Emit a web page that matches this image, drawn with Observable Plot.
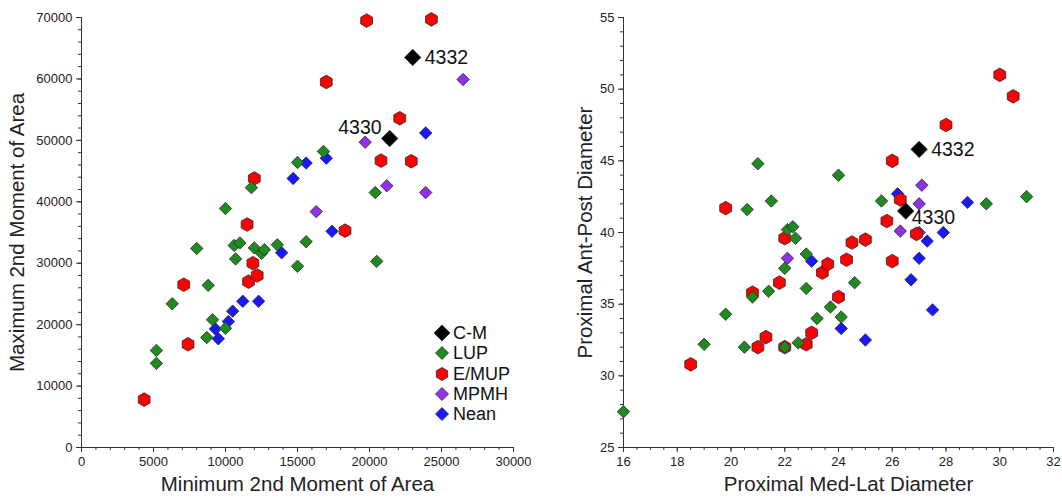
<!DOCTYPE html>
<html><head><meta charset="utf-8">
<script src="https://cdn.jsdelivr.net/npm/d3@7"></script>
<script src="https://cdn.jsdelivr.net/npm/@observablehq/plot@0.6"></script>
<style>
body{margin:0;background:#fff;font-family:Arial,"Liberation Sans",sans-serif;}
#wrap{position:relative;width:1062px;height:498px;display:flex;overflow:hidden;}
#legend{position:absolute;left:431px;top:323px;font-size:18px;color:#111;line-height:20.3px;}
#legend div{display:flex;align-items:center;height:20.3px;}
#legend svg{width:22px;height:20px;margin-left:0px;margin-right:0px;}
</style></head><body><div id="wrap"></div>
<script>
// ---- shared categories / styles ----
const groups = ["C-M","LUP","E/MUP","MPMH","Nean"];
const groupColors = ["#000000","#1f8a1f","#ff0000","#9030e8","#1818ff"];
const groupSymbols = ["diamond2","diamond2","hexagon","diamond2","diamond2"];
const drawOrder = ["Nean","MPMH","E/MUP","LUP","C-M"];

// ---- left panel: 2nd moments of area ----
const leftCM_x = [23000, 21400];
const leftCM_y = [63500, 50300];
const leftCM_labels = ["4332","4330"];
const leftLUP_x = [5200,5200,6300,8000,8700,8800,9100,10000,10000,10600,10700,11000,11800,12000,12500,12700,13600,15000,15000,15600,16800,20400,20500];
const leftLUP_y = [15800,13700,23400,32400,17900,26400,20800,19400,38900,32900,30700,33300,42300,32500,31600,32200,33000,46400,29500,33500,48200,41500,30300];
const leftEMUP_x = [4350,7100,7400,11500,11600,11900,12000,12200,17000,18300,19800,20800,22100,22900,24300];
const leftEMUP_y = [7800,26500,16800,36300,27000,30000,43800,28000,59500,35300,69500,46700,53600,46600,69700];
const leftMPMH_x = [16300,19700,21200,23900,26500];
const leftMPMH_y = [38400,49700,42600,41500,59900];
const leftNean_x = [9300,9500,10200,10500,11200,12300,13900,14700,15600,17000,17400,23900];
const leftNean_y = [19300,17700,20500,22200,23800,23800,31700,43800,46300,47100,35200,51200];

// ---- right panel: proximal diameters ----
const rightCM_x = [27.0, 26.5];
const rightCM_y = [45.8, 41.5];
const rightCM_labels = ["4332","4330"];
const rightLUP_x = [16.0,19.0,19.8,20.5,20.6,20.8,21.0,21.4,21.5,22.0,22.0,22.1,22.3,22.4,22.5,22.8,22.8,23.2,23.7,24.0,24.1,24.6,25.6,29.5,31.0];
const rightLUP_y = [27.5,32.2,34.3,32.0,41.6,35.5,44.8,35.9,42.2,37.5,32.0,40.2,40.4,39.6,32.3,38.5,36.1,34.0,34.8,44.0,34.1,36.5,42.2,42.0,42.5];
const rightEMUP_x = [18.5,19.8,20.8,21.0,21.3,21.8,22.0,22.0,22.8,23.0,23.4,23.6,24.0,24.3,24.5,25.0,25.8,26.0,26.0,26.3,26.9,28.0,30.0,30.5];
const rightEMUP_y = [30.8,41.7,35.8,32.0,32.7,36.5,39.6,32.0,32.2,33.0,37.2,37.8,35.5,38.1,39.3,39.5,40.8,38.0,45.0,42.3,39.9,47.5,51.0,49.5];
const rightMPMH_x = [22.1,26.3,27.0,27.0,27.1];
const rightMPMH_y = [38.2,40.1,40.0,42.0,43.3];
const rightNean_x = [23.0,24.1,25.0,26.2,26.7,27.0,27.3,27.5,27.9,28.8];
const rightNean_y = [38.0,33.3,32.5,42.7,36.7,38.2,39.4,34.6,40.0,42.1];

// ---- axis ticks ----
const leftXTicks = [0,5000,10000,15000,20000,25000,30000];
const leftYTicks = [0,10000,20000,30000,40000,50000,60000,70000];
const rightXTicks = [16,18,20,22,24,26,28,30,32];
const rightYTicks = [25,30,35,40,45,50,55];

const leftTitles = {x: "Minimum 2nd Moment of Area", y: "Maximum 2nd Moment of Area"};
const rightTitles = {x: "Proximal Med-Lat Diameter", y: "Proximal Ant-Post Diameter"};

function rows(set) {
  const out = [];
  for (const g of groups) {
    const xs = set[g][0], ys = set[g][1], labs = set[g][2] || [];
    xs.forEach((x, i) => out.push({group: g, x, y: ys[i], label: labs[i] || ""}));
  }
  return out;
}

const leftData = rows({
  "C-M": [leftCM_x, leftCM_y, leftCM_labels],
  "LUP": [leftLUP_x, leftLUP_y],
  "E/MUP": [leftEMUP_x, leftEMUP_y],
  "MPMH": [leftMPMH_x, leftMPMH_y],
  "Nean": [leftNean_x, leftNean_y]
});
const rightData = rows({
  "C-M": [rightCM_x, rightCM_y, rightCM_labels],
  "LUP": [rightLUP_x, rightLUP_y],
  "E/MUP": [rightEMUP_x, rightEMUP_y],
  "MPMH": [rightMPMH_x, rightMPMH_y],
  "Nean": [rightNean_x, rightNean_y]
});

function panel(cfg) {
  const {data, xTicks, yTicks, xMinor, yMinor, titles, marginLeft, marginRight, labelOffsets, xTitleDx, yTitleDx} = cfg;
  const xd = [xTicks[0], xTicks[xTicks.length-1]];
  const yd = [yTicks[0], yTicks[yTicks.length-1]];
  const fmt = d => String(d);
  const marks = [
    Plot.axisX({ticks: xMinor, tickSize: 3, text: null, label: null, stroke: "#333"}),
    Plot.axisY({ticks: yMinor, tickSize: 3, text: null, label: null, stroke: "#333"}),
    Plot.axisX({ticks: xTicks, tickSize: 5, tickPadding: 4, tickFormat: fmt, fontSize: 13, label: null, stroke: "#333", color: "#222"}),
    Plot.axisY({ticks: yTicks, tickSize: 5, tickPadding: 4, tickFormat: fmt, fontSize: 13, label: null, stroke: "#333", color: "#222"}),
    Plot.ruleX([xd[0]], {stroke: "#333"}),
    Plot.ruleY([yd[0]], {stroke: "#333"}),
    Plot.text([titles.x], {frameAnchor: "bottom", dy: 37, dx: xTitleDx, fontSize: 20.5, fill: "#222", textAnchor: "middle", lineAnchor: "middle"}),
    Plot.text([titles.y], {frameAnchor: "left", dx: yTitleDx, rotate: -90, fontSize: 20.5, fill: "#222", textAnchor: "middle", lineAnchor: "middle"})
  ];
  for (const g of drawOrder) {
    const gi = groups.indexOf(g);
    const sub = data.filter(d => d.group === g);
    marks.push(Plot.dot(sub, {
      x: "x", y: "y",
      symbol: () => groupSymbols[gi],
      r: g === "C-M" ? 7.4 : (groupSymbols[gi] === "hexagon" ? 5.9 : 5.6),
      fill: groupColors[gi],
      stroke: "#2a2a2a", strokeWidth: 0.8
    }));
  }
  const lab = data.filter(d => d.label);
  lab.forEach((d, i) => {
    const o = labelOffsets[i];
    marks.push(Plot.text([d], {x: "x", y: "y", text: "label", dx: o.dx, dy: o.dy, textAnchor: o.anchor, fontSize: 19.5, fill: "#111"}));
  });
  return Plot.plot({
    width: 531, height: 498,
    marginLeft, marginRight, marginTop: 17, marginBottom: 51,
    style: {fontFamily: "Arial, 'Liberation Sans', sans-serif", background: "white", overflow: "visible"},
    x: {domain: xd}, y: {domain: yd},
    symbol: {type: "identity"},
    marks
  });
}

const wrap = document.getElementById("wrap");
wrap.appendChild(panel({
  data: leftData, xTicks: leftXTicks, yTicks: leftYTicks,
  xMinor: d3.range(0, 30001, 1000), yMinor: d3.range(0, 70001, 2000),
  titles: leftTitles, marginLeft: 81, marginRight: 18,
  xTitleDx: 0, yTitleDx: -64,
  labelOffsets: [{dx: 12, dy: 0, anchor: "start"}, {dx: -8, dy: -11, anchor: "end"}]
}));
wrap.appendChild(panel({
  data: rightData, xTicks: rightXTicks, yTicks: rightYTicks,
  xMinor: d3.range(16, 32.01, 0.5), yMinor: d3.range(25, 55.01, 1),
  titles: rightTitles, marginLeft: 92, marginRight: 9,
  xTitleDx: 10, yTitleDx: -38,
  labelOffsets: [{dx: 12, dy: 0, anchor: "start"}, {dx: 6, dy: 7, anchor: "start"}]
}));

// legend
const legend = document.createElement("div");
legend.id = "legend";
groups.forEach((g, i) => {
  const row = document.createElement("div");
  const size = g === "C-M" ? 8 : 6.5;
  let shape;
  if (groupSymbols[i] === "hexagon") {
    const pts = d3.range(6).map(k => { const a = Math.PI/3*k + Math.PI/6; return [11 + size*Math.cos(a), 10 + size*Math.sin(a)].join(","); }).join(" ");
    shape = `<polygon points="${pts}" fill="${groupColors[i]}" stroke="#2a2a2a" stroke-width="0.8"/>`;
  } else {
    shape = `<polygon points="11,${10-size} ${11+size},10 11,${10+size} ${11-size},10" fill="${groupColors[i]}" stroke="#2a2a2a" stroke-width="0.8"/>`;
  }
  row.innerHTML = `<svg viewBox="0 0 22 20">${shape}</svg><span>${g}</span>`;
  legend.appendChild(row);
});
wrap.appendChild(legend);
</script>
</body></html>
